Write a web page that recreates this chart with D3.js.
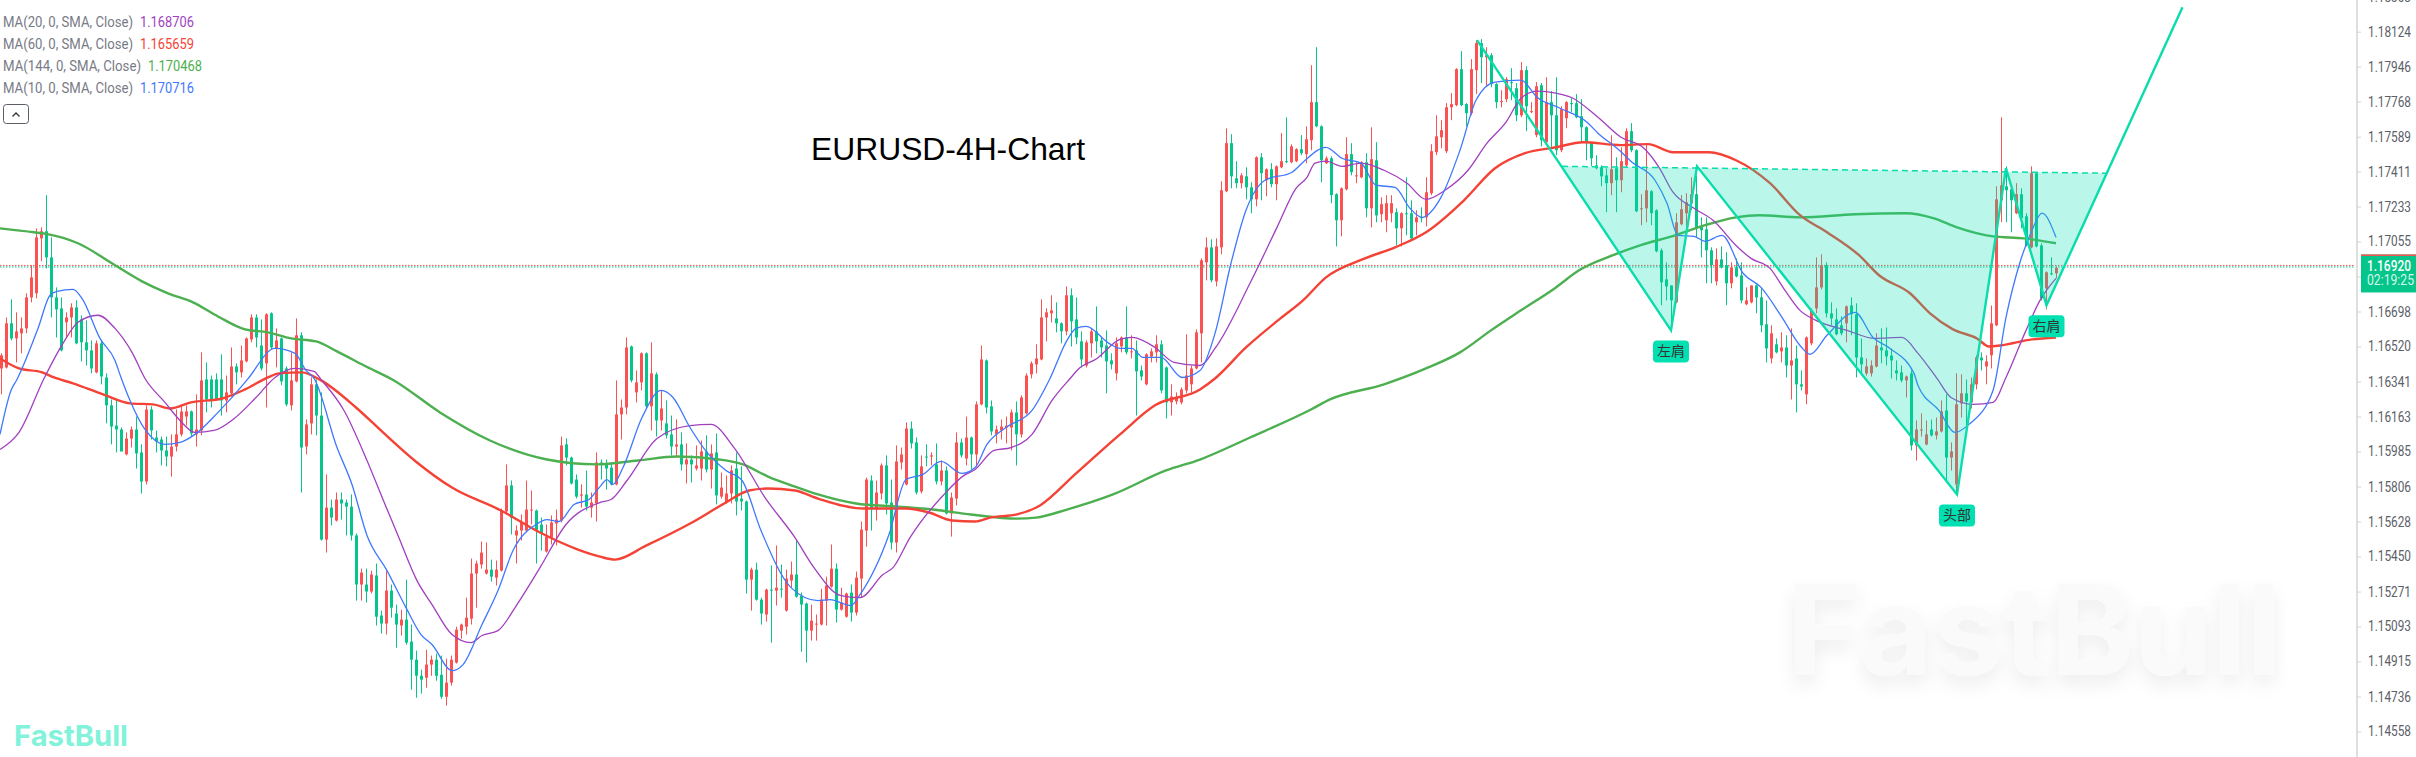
<!DOCTYPE html>
<html>
<head>
<meta charset="utf-8">
<script src="https://cdn.jsdelivr.net/npm/d3@7"></script>
<style>
  body { margin: 0; background: #fff; }
  svg { display: block; }
</style>
</head>
<body>
<script>
// Chart values. Prices in points (1 point = 0.00001)

// Candles: open, high, low, close, one row per 4H bar
var candles = [
[116408,116485,116276,116475],[116413,116668,116408,116638],[116638,116760,116551,116561],[116561,116694,116439,116597],
[116587,116668,116485,116612],[116612,116791,116587,116770],[116770,116934,116745,116872],[116791,117122,116765,117076],
[117071,117127,116954,117107],[117107,117291,116918,116974],[116974,117076,116668,116770],[116770,116821,116566,116709],
[116714,116770,116495,116500],[116643,116694,116566,116668],[116668,116740,116566,116719],[116719,116755,116531,116536],
[116658,116679,116444,116541],[116541,116653,116423,116500],[116500,116551,116383,116408],[116388,116551,116383,116536],
[116536,116551,116327,116367],[116362,116383,116128,116220],[116220,116250,116021,116112],[116117,116250,115980,116097],
[116097,116107,115985,115985],[115970,116082,115965,116051],[116051,116112,116005,116097],[116097,116163,115898,115975],
[115980,116021,115771,115832],[115832,116220,115817,116199],[116199,116215,116046,116092],[116056,116092,115980,116036],
[116046,116061,115914,115990],[115990,116061,115909,115959],[115959,116072,115857,116010],[116010,116199,115985,116072],
[116072,116215,116061,116189],[116163,116220,116117,116189],[116189,116194,116061,116077],[116072,116276,116010,116097],
[116092,116490,116067,116347],[116352,116439,116184,116250],[116352,116372,116209,116245],[116352,116383,116245,116250],
[116352,116480,116168,116245],[116245,116372,116184,116286],[116281,116515,116265,116418],[116418,116434,116327,116388],
[116388,116525,116362,116449],[116444,116566,116439,116561],[116556,116684,116541,116668],[116668,116684,116515,116566],
[116525,116658,116398,116408],[116434,116689,116209,116684],[116689,116694,116505,116515],[116510,116612,116413,116551],
[116561,116566,116322,116342],[116408,116418,116215,116225],[116220,116490,116194,116347],[116342,116663,116337,116577],
[116577,116592,115776,116005],[116010,116148,115970,116123],[116128,116362,116072,116327],[116327,116352,116067,116168],
[116168,116286,115531,115536],[115536,115868,115470,115699],[115699,115740,115608,115648],[115633,115776,115628,115740],
[115740,115776,115638,115720],[115725,115740,115557,115704],[115704,115766,115531,115557],[115557,115567,115225,115307],
[115307,115388,115225,115368],[115307,115388,115215,115271],[115271,115378,115261,115358],[115353,115414,115098,115143],
[115149,115174,115057,115108],[115108,115378,115052,115276],[115276,115307,115138,115189],[115159,115205,114985,115103],
[115098,115179,115047,115128],[115128,115332,115001,115011],[115016,115103,114771,114924],[114924,114970,114730,114842],
[114842,114873,114751,114822],[114832,114975,114781,114899],[114899,114945,114842,114924],[114924,114955,114817,114842],
[114847,114945,114725,114735],[114735,114929,114690,114807],[114807,114945,114792,114924],[114909,115092,114904,115077],
[115072,115108,115031,115103],[115092,115240,115052,115138],[115133,115439,115103,115363],[115363,115429,115189,115414],
[115409,115526,115388,115470],[115363,115521,115358,115383],[115383,115434,115322,115347],[115342,115429,115302,115383],
[115378,115694,115373,115684],[115679,115919,115669,115812],[115812,115837,115562,115648],[115557,115608,115414,115582],
[115582,115664,115531,115623],[115582,115837,115572,115689],[115684,115786,115613,115689],[115684,115689,115414,115582],
[115613,115648,115480,115567],[115475,115613,115470,115551],[115546,115659,115511,115623],[115618,115689,115506,115638],
[115633,116061,115623,116016],[116021,116051,115914,115954],[115954,115959,115817,115822],[115842,115868,115745,115755],
[115760,115817,115699,115766],[115766,115888,115684,115704],[115699,115776,115648,115725],[115720,115980,115628,115929],
[115929,115944,115842,115924],[115924,115944,115791,115898],[115903,115929,115812,115817],[115817,116347,115812,116174],
[116174,116250,116046,116209],[116209,116566,116174,116515],[116520,116525,116337,116347],[116286,116398,116235,116337],
[116337,116490,116296,116485],[116485,116490,116204,116215],[116215,116541,116092,116383],[116378,116388,116061,116143],
[116143,116296,116092,116204],[116128,116245,116051,116067],[116072,116168,115965,116010],[116010,116148,115959,116021],
[116021,116082,115888,115919],[115919,116026,115822,115944],[115944,115965,115827,115919],[115898,116016,115888,115914],
[115898,116041,115837,115985],[115985,116067,115878,115893],[115893,116021,115796,115975],[115980,116077,115715,115761],
[115755,115878,115745,115801],[115725,115863,115720,115771],[115771,115914,115720,115888],[115898,115980,115659,115730],
[115745,115909,115684,115730],[115730,115735,115261,115332],[115332,115393,115174,115383],[115383,115419,115225,115230],
[115230,115240,115103,115159],[115154,115286,115118,115281],[115281,115404,115011,115276],[115276,115506,115200,115291],
[115286,115409,115240,115281],[115174,115383,115169,115337],[115327,115424,115291,115358],[115358,115531,115240,115245],
[115250,115266,114965,115205],[115210,115215,114909,115072],[115072,115205,115021,115123],[115103,115154,115021,115108],
[115103,115286,115098,115230],[115225,115347,115098,115302],[115296,115511,115291,115388],[115388,115414,115113,115179],
[115179,115291,115174,115215],[115143,115266,115138,115261],[115266,115307,115118,115164],[115164,115373,115149,115342],
[115337,115628,115240,115587],[115582,115852,115500,115842],[115837,115863,115582,115689],[115689,115837,115633,115776],
[115771,115924,115740,115914],[115914,115965,115664,115720],[115725,115842,115485,115521],[115521,116016,115470,115934],
[115929,116005,115893,115970],[115817,116133,115812,116102],[116102,116138,116000,116026],[116031,116056,115766,115776],
[115781,115965,115771,115909],[115959,116021,115909,115955],[115959,115980,115914,115965],[115919,116026,115817,115832],
[115832,115939,115812,115888],[115888,115909,115664,115669],[115669,115776,115551,115750],[115745,116082,115710,116031],
[116031,116051,115954,115965],[115949,116163,115914,116056],[116056,116061,115893,115970],[115970,116240,115909,116225],
[116225,116525,116220,116454],[116449,116454,116179,116209],[116215,116245,116067,116087],[116072,116117,116026,116097],
[116092,116148,116046,116112],[116107,116163,116026,116117],[116107,116199,115990,116184],[116184,116240,115914,116072],
[116072,116271,116056,116260],[116179,116383,116174,116372],[116378,116444,116357,116434],[116429,116531,116383,116459],
[116454,116760,116449,116668],[116668,116714,116546,116694],[116689,116781,116643,116704],[116663,116745,116592,116638],
[116638,116643,116536,116597],[116597,116826,116577,116781],[116781,116816,116520,116648],[116658,116770,116531,116566],
[116546,116597,116413,116454],[116423,116551,116413,116541],[116536,116612,116464,116597],[116597,116724,116485,116546],
[116551,116566,116464,116515],[116525,116602,116281,116444],[116449,116485,116403,116429],[116383,116566,116347,116536],
[116520,116571,116490,116566],[116566,116724,116480,116490],[116490,116577,116459,116495],[116500,116551,116168,116393],
[116398,116423,116347,116367],[116327,116485,116322,116480],[116469,116510,116439,116495],[116490,116577,116439,116531],
[116531,116551,116281,116296],[116413,116418,116153,116235],[116235,116327,116168,116265],[116240,116286,116225,116260],
[116235,116311,116225,116301],[116296,116582,116281,116372],[116327,116423,116286,116408],[116408,116607,116403,116592],
[116587,116969,116439,116959],[116949,117076,116857,117025],[117025,117066,116847,116857],[116852,117071,116826,117030],
[117025,117362,116990,117316],[117311,117632,117306,117556],[117556,117602,117326,117387],[117377,117464,117326,117352],
[117352,117403,117326,117392],[117387,117433,117270,117331],[117331,117357,117199,117270],[117270,117489,117234,117484],
[117484,117505,117265,117403],[117367,117428,117285,117423],[117423,117454,117331,117347],[117347,117443,117265,117438],
[117433,117607,117428,117464],[117464,117688,117454,117461],[117459,117550,117454,117540],[117464,117530,117459,117525],
[117525,117597,117495,117505],[117500,117642,117454,117576],[117571,117953,117520,117765],[117765,118045,117637,117642],
[117642,117647,117357,117469],[117454,117489,117449,117479],[117479,117489,117250,117291],[117296,117301,117030,117163],
[117163,117331,117081,117326],[117321,117586,117316,117500],[117500,117556,117392,117408],[117390,117459,117352,117392],
[117382,117464,117377,117459],[117459,117505,117178,117224],[117224,117637,117127,117474],[117469,117561,117153,117188],
[117194,117280,117153,117245],[117163,117291,117102,117250],[117199,117291,117153,117250],[117204,117224,117035,117122],
[117122,117204,117030,117199],[117199,117382,117086,117194],[117199,117265,117061,117071],[117153,117214,117086,117178],
[117178,117229,117153,117173],[117178,117382,117132,117306],[117301,117551,117291,117515],[117510,117698,117495,117591],
[117586,117673,117530,117622],[117515,117760,117505,117739],[117739,117811,117673,117755],[117750,117938,117744,117933],
[117933,118025,117744,117750],[117755,117760,117642,117709],[117709,117984,117698,117933],[117928,118081,117806,118066],
[118066,118086,117862,117994],[117994,118045,117846,118004],[118004,118015,117841,117857],[117857,117862,117734,117765],
[117765,117826,117739,117770],[117780,117892,117765,117882],[117867,117938,117775,117862],[117836,117862,117668,117698],
[117698,117969,117688,117928],[117928,117948,117617,117744],[117716,117765,117709,117719],[117597,117867,117586,117846],
[117851,117862,117540,117571],[117561,117892,117556,117765],[117765,117821,117535,117698],[117698,117892,117495,117520],
[117520,117744,117510,117729],[117683,117770,117632,117765],[117760,117785,117714,117755],[117760,117806,117683,117688],
[117693,117780,117561,117637],[117637,117642,117469,117561],[117556,117561,117438,117479],[117443,117495,117423,117428],
[117433,117443,117336,117387],[117392,117428,117204,117352],[117352,117597,117291,117423],[117428,117484,117204,117367],
[117367,117535,117306,117464],[117443,117632,117433,117617],[117617,117658,117510,117520],[117520,117525,117204,117209],
[117220,117296,117138,117224],[117224,117546,117153,117316],[117311,117316,117138,117199],[117214,117219,117000,117005],
[117010,117020,116730,116847],[116862,116949,116755,116826],[116831,116831,116592,116755],[116745,117199,116740,117153],
[117143,117291,117138,117219],[117199,117301,117112,117255],[117250,117382,117214,117296],[117296,117392,117076,117127],
[117132,117178,116974,117112],[117117,117178,116842,117010],[117010,117025,116842,116934],[116852,117020,116831,116964],
[116964,117030,116918,116923],[116934,117000,116730,116842],[116842,116949,116816,116923],[116923,116969,116872,116877],
[116882,116949,116740,116755],[116735,116821,116730,116755],[116745,116831,116740,116831],[116831,116836,116689,116770],
[116770,116821,116592,116628],[116633,116755,116439,116510],[116459,116628,116434,116587],[116531,116561,116485,116490],
[116495,116592,116439,116515],[116515,116577,116362,116423],[116423,116612,116250,116449],[116459,116525,116184,116327],
[116327,116398,116296,116316],[116276,116571,116225,116566],[116536,116714,116526,116704],[116714,116974,116689,116821],
[116821,116990,116811,116934],[116934,116949,116668,116689],[116689,116745,116628,116663],[116658,116714,116577,116582],
[116628,116673,116577,116587],[116638,116729,116541,116724],[116729,116770,116577,116684],[116684,116740,116362,116464],
[116464,116561,116383,116429],[116383,116459,116372,116418],[116383,116449,116367,116423],[116418,116587,116413,116525],
[116515,116612,116434,116500],[116500,116617,116423,116469],[116474,116510,116357,116449],[116398,116449,116347,116383],
[116388,116423,116337,116347],[116347,116372,116260,116367],[116383,116398,115990,116016],[116016,116143,115939,116097],
[116092,116179,116061,116097],[116021,116143,116016,116072],[116097,116148,116061,116067],[116067,116158,116046,116087],
[116087,116245,116082,116189],[116194,116276,115827,115954],[115954,116031,115888,115985],[115817,116383,115766,116225],
[116230,116378,116158,116281],[116281,116352,116117,116240],[116235,116362,116204,116327],[116327,116475,116301,116464],
[116464,116490,116398,116449],[116418,116475,116327,116444],[116475,116729,116408,116638],[116628,117336,116623,117270],
[117265,117688,117153,117341],[117336,117438,117153,117316],[117321,117331,117102,117265],[117199,117352,117194,117296],
[117296,117326,117122,117173],[117183,117199,117030,117035],[117025,117438,117020,117403],[117403,117408,117025,117030],
[117035,117046,116755,116765],[116816,116903,116709,116898],[116893,116974,116883,116888],[116893,116929,116867,116920]
];

// Moving averages: bar number, value
var ma144 = [[-0.3,117122],[6.5,117102],[8.9,117094],[15.3,117046],[22.7,116934],[28.1,116852],[33.3,116791],[38.3,116745],[43.3,116673],[48.7,116607],[53.3,116592],[57.9,116561],[62.9,116546],[67.1,116495],[72.5,116423],[78.5,116347],[87.7,116184],[97.7,116041],[109.1,115944],[119.1,115919],[127.3,115939],[135.1,115959],[143.5,115944],[148.3,115919],[153.3,115857],[158.7,115806],[163.3,115766],[170.9,115720],[179.3,115704],[186.3,115689],[193.9,115664],[203.1,115643],[206.9,115648],[213.1,115689],[222.3,115766],[232.9,115888],[239.7,115944],[249.7,116056],[261.9,116199],[265.7,116250],[276.5,116327],[284.9,116408],[291.7,116490],[297.9,116602],[303.9,116704],[310.9,116821],[315.5,116908],[322.3,116985],[327.7,117035],[334.7,117086],[340.7,117138],[346.9,117178],[351.5,117189],[359.7,117178],[370.7,117194],[380.9,117199],[386.5,117173],[391.1,117127],[398.3,117081],[404.5,117071],[410.9,117046]];

var ma60 = [[-0.3,116459],[3.5,116408],[8.1,116388],[10.5,116362],[14.3,116332],[20.3,116276],[25.7,116230],[30.3,116225],[33.7,116204],[37.9,116235],[44.1,116255],[48.7,116301],[53.3,116362],[55.5,116383],[60.1,116388],[63.9,116347],[70.9,116209],[76.3,116082],[83.1,115929],[90.1,115801],[99.9,115684],[107.7,115572],[115.3,115485],[119.7,115449],[122.7,115434],[128.9,115505],[138.1,115623],[144.9,115725],[149.5,115786],[153.3,115796],[158.7,115786],[163.3,115745],[172.5,115694],[180.9,115694],[185.5,115674],[190.1,115633],[194.7,115628],[197.7,115648],[203.1,115664],[207.7,115710],[214.7,115868],[223.7,116072],[230.7,116220],[239.7,116301],[242.7,116357],[248.9,116515],[255.3,116653],[260.3,116755],[264.9,116872],[272.7,116969],[278.7,117025],[284.9,117102],[292.5,117265],[298.7,117428],[304.7,117505],[310.9,117535],[316.3,117561],[323.9,117546],[329.3,117551],[334.3,117510],[341.5,117510],[346.9,117469],[353.7,117352],[359.7,117189],[365.1,117102],[371.5,116985],[375.5,116883],[381.7,116791],[385.7,116689],[390.3,116607],[395.1,116561],[397.5,116520],[399.7,116525],[406.1,116556],[410.9,116566]];

var ma20 = [[-0.3,115995],[3.5,116082],[8.5,116357],[12.3,116536],[15.3,116643],[19.3,116679],[22.7,116612],[26.1,116490],[28.7,116357],[32.7,116235],[35.7,116143],[38.7,116082],[42.5,116092],[46.3,116148],[50.9,116260],[54.7,116362],[58.7,116408],[62.5,116393],[63.9,116352],[68.5,116194],[73.1,115939],[76.3,115740],[79.3,115557],[83.1,115327],[86.1,115205],[90.1,115052],[93.9,115011],[96.1,115047],[99.3,115072],[103.1,115205],[107.7,115393],[112.9,115613],[119.7,115725],[121.9,115740],[125.1,115837],[131.1,116051],[137.7,116117],[141.9,116123],[146.5,116005],[152.7,115750],[158.7,115546],[162.5,115393],[167.9,115250],[171.7,115240],[176.3,115358],[178.3,115393],[181.7,115546],[188.5,115766],[192.5,115863],[194.7,115893],[198.5,115990],[201.9,116005],[206.1,116072],[210.1,116245],[213.9,116362],[215.3,116403],[219.1,116459],[223.7,116556],[226.1,116566],[230.7,116515],[234.5,116439],[239.7,116423],[242.7,116510],[249.7,116842],[255.1,117127],[258.9,117326],[261.1,117382],[262.7,117454],[264.9,117464],[268.1,117438],[271.9,117454],[276.5,117418],[281.1,117352],[284.9,117270],[288.7,117316],[293.3,117418],[297.1,117556],[300.9,117663],[303.9,117785],[307.1,117821],[310.9,117811],[313.9,117790],[319.3,117688],[323.9,117586],[328.5,117530],[331.5,117433],[334.3,117306],[338.5,117224],[342.3,117163],[346.9,117035],[349.9,116969],[353.7,116918],[356.7,116806],[359.7,116704],[362.9,116653],[369.1,116602],[374.7,116561],[380.1,116566],[383.3,116485],[387.1,116357],[389.9,116260],[394.3,116225],[398.3,116235],[400.9,116362],[404.9,116602],[407.7,116755],[410.9,116867]];

var ma10 = [[-0.3,116072],[1.9,116296],[3.1,116352],[7.3,116612],[9.7,116781],[11.1,116801],[14.3,116811],[16.1,116765],[19.7,116561],[22.7,116449],[23.9,116362],[25.7,116245],[28.7,116097],[32.7,116021],[35.7,116031],[38.7,116072],[43.3,116184],[48.7,116337],[49.5,116362],[54.7,116510],[58.7,116485],[60.9,116398],[62.5,116357],[67.1,116005],[70.1,115817],[73.1,115557],[77.1,115378],[80.9,115189],[83.9,115052],[86.1,115001],[90.1,114868],[92.3,114899],[96.1,115103],[99.3,115276],[102.3,115480],[106.9,115613],[109.1,115638],[111.5,115628],[114.5,115715],[117.5,115740],[119.7,115806],[121.1,115842],[122.3,115817],[124.3,115903],[128.1,116158],[131.9,116296],[134.3,116260],[137.7,116107],[141.1,115980],[144.9,115888],[148.1,115837],[151.9,115582],[157.9,115291],[163.3,115225],[165.7,115230],[169.9,115200],[171.7,115256],[177.5,115562],[180.9,115842],[184.3,115868],[187.9,115934],[192.1,115873],[194.7,115903],[197.1,116021],[200.9,116107],[206.1,116194],[209.7,116357],[213.1,116551],[214.9,116612],[216.9,116622],[221.5,116536],[223.7,116510],[226.1,116510],[228.3,116464],[231.9,116464],[236.1,116362],[239.7,116398],[242.7,116587],[245.9,116944],[248.9,117214],[252.7,117367],[258.1,117408],[260.3,117459],[264.9,117535],[268.1,117479],[271.9,117454],[274.9,117342],[278.7,117331],[281.7,117224],[284.1,117178],[287.9,117280],[291.7,117520],[294.9,117775],[298.7,117867],[303.9,117877],[307.1,117790],[311.7,117734],[317.1,117663],[319.3,117607],[323.1,117530],[326.1,117459],[330.7,117367],[333.1,117250],[335.3,117086],[338.5,117081],[340.7,117056],[344.1,117086],[348.3,116893],[351.9,116821],[356.1,116668],[359.7,116525],[361.7,116480],[365.1,116577],[370.7,116694],[374.3,116566],[377.7,116510],[382.5,116383],[383.3,116321],[387.5,116194],[390.7,116082],[393.5,116123],[398.3,116296],[400.9,116668],[403.7,116949],[406.1,117112],[408.1,117199],[410.9,117076]];

// Head and shoulders drawing: bar number, value
var patternLine = [[295.1,118081],[333.9,116602],[339.1,117438],[391.1,115766],[400.9,117428],[409,116730],[436.2,118249]];
var patternFill = [[312.1,117438],[333.9,116602],[339.1,117438],[391.1,115766],[400.9,117428],[409,116730],[421,117403]];
var neckline = [[312.1,117438],[421,117403]];
var patternLabels = ["左肩", "头部", "右肩"];
var patternLabelBars = [333.9, 391.1, 409];
var patternLabelPrices = [116602, 115766, 116730];

// Axis and legend
var priceTicks = [1.18303,1.18124,1.17946,1.17768,1.17589,1.17411,1.17233,1.17055,1.16876,1.16698,1.1652,1.16341,1.16163,1.15985,1.15806,1.15628,1.1545,1.15271,1.15093,1.14915,1.14736,1.14558];
var legendNames = ["MA(20, 0, SMA, Close)", "MA(60, 0, SMA, Close)", "MA(144, 0, SMA, Close)", "MA(10, 0, SMA, Close)"];
var legendValues = ["1.168706", "1.165659", "1.170468", "1.170716"];
var lastPrice = 1.16920;
var bidLinePrice = 1.16925;
var askLinePrice = 1.16933;
var countdown = "02:19:25";

var colorUp = "#fa5252";
var colorDown = "#05c58a";
var colorMa20 = "#a13fbf";
var colorMa60 = "#f44336";
var colorMa144 = "#4caf50";
var colorMa10 = "#3f78ff";
var colorPattern = "#0adcab";
var legendColors = [colorMa20, colorMa60, colorMa144, colorMa10];

var width = 2416;
var height = 757;
var axisX = 2357;

var svg = d3.select("body")
  .append("svg")
  .attr("width", width)
  .attr("height", height);

var xScale = d3.scaleLinear().domain([0, 411]).range([1.5, 2056.5]);
var yScale = d3.scaleLinear().domain([1.14558, 1.18124]).range([731.5, 31.7]);

function yPts(p) { return yScale(p / 100000); }

// Drop shadow for the large watermark
var shadow = svg.append("defs").append("filter")
  .attr("id", "markShadow")
  .attr("x", "-5%").attr("y", "-20%").attr("width", "110%").attr("height", "150%");
shadow.append("feDropShadow")
  .attr("dx", 0).attr("dy", 9).attr("stdDeviation", 9)
  .attr("flood-color", "#000").attr("flood-opacity", 0.07);

// Watermark
svg.append("text")
  .attr("x", 1787).attr("y", 675)
  .attr("font-family", "Inter, Lato, sans-serif")
  .attr("font-weight", 700)
  .attr("font-size", 125)
  .attr("textLength", 494)
  .attr("lengthAdjust", "spacingAndGlyphs")
  .attr("fill", "#fafafa")
  .attr("filter", "url(#markShadow)")
  .text("FastBull");

// Current price lines
function priceLine(price, color) {
  svg.append("line")
    .attr("x1", 0).attr("x2", axisX - 2)
    .attr("y1", yScale(price)).attr("y2", yScale(price))
    .attr("stroke", color)
    .attr("stroke-width", 1)
    .attr("stroke-dasharray", "1.5 1.5");
}
priceLine(askLinePrice, colorUp);
priceLine(bidLinePrice, colorDown);

// Candles
var bars = svg.append("g").selectAll("g")
  .data(candles)
  .enter()
  .append("g")
  .attr("fill", function (d) { return d[3] >= d[0] ? colorUp : colorDown; })
  .attr("stroke", function (d) { return d[3] >= d[0] ? colorUp : colorDown; });

bars.append("line")
  .attr("x1", function (d, i) { return xScale(i); })
  .attr("x2", function (d, i) { return xScale(i); })
  .attr("y1", function (d) { return yPts(d[1]); })
  .attr("y2", function (d) { return yPts(d[2]); })
  .attr("stroke-width", 1);

bars.append("rect")
  .attr("x", function (d, i) { return xScale(i) - 1.5; })
  .attr("width", 3)
  .attr("y", function (d) { return yPts(Math.max(d[0], d[3])); })
  .attr("height", function (d) { return Math.max(1, Math.abs(yPts(d[0]) - yPts(d[3]))); })
  .attr("stroke", "none");

// Moving averages
var maLine = d3.line()
  .x(function (d) { return xScale(d[0]); })
  .y(function (d) { return yPts(d[1]); })
  .curve(d3.curveMonotoneX);

function drawMa(points, color, thick) {
  svg.append("path")
    .attr("d", maLine(points))
    .attr("fill", "none")
    .attr("stroke", color)
    .attr("stroke-width", thick);
}
drawMa(ma144, colorMa144, 2.4);
drawMa(ma60, colorMa60, 2.4);
drawMa(ma20, colorMa20, 1.3);
drawMa(ma10, colorMa10, 1.3);

// Pattern drawing
var straight = d3.line()
  .x(function (d) { return xScale(d[0]); })
  .y(function (d) { return yPts(d[1]); });

svg.append("path")
  .attr("d", straight(patternFill) + "Z")
  .attr("fill", "rgba(0, 224, 176, 0.27)");

svg.append("path")
  .attr("d", straight(neckline))
  .attr("fill", "none")
  .attr("stroke", colorPattern)
  .attr("stroke-width", 1.5)
  .attr("stroke-dasharray", "6 4");

svg.append("path")
  .attr("d", straight(patternLine))
  .attr("fill", "none")
  .attr("stroke", colorPattern)
  .attr("stroke-width", 2.4);

var tags = svg.append("g").selectAll("g")
  .data(patternLabels)
  .enter()
  .append("g")
  .attr("transform", function (d, i) {
    return "translate(" + xScale(patternLabelBars[i]) + "," + yPts(patternLabelPrices[i]) + ")";
  });

tags.append("rect")
  .attr("x", -18).attr("y", 10)
  .attr("width", 36).attr("height", 22)
  .attr("rx", 4)
  .attr("fill", "#00e0b0");

tags.append("text")
  .attr("y", 26)
  .attr("text-anchor", "middle")
  .attr("font-family", "'Noto Sans CJK SC', sans-serif")
  .attr("font-size", 14)
  .attr("fill", "#333")
  .text(function (d) { return d; });

// Price axis
svg.append("line")
  .attr("x1", axisX).attr("x2", axisX)
  .attr("y1", 0).attr("y2", height)
  .attr("stroke", "#d4d4d4")
  .attr("stroke-width", 1.5);

var axis = svg.append("g")
  .attr("transform", "translate(" + axisX + ",0)")
  .call(d3.axisRight(yScale).tickValues(priceTicks).tickSize(4).tickFormat(d3.format(".5f")));
axis.select(".domain").remove();
axis.selectAll("line").attr("stroke", "#d4d4d4");
axis.selectAll("text")
  .attr("x", 11)
  .attr("font-family", "Roboto, sans-serif")
  .attr("font-size", 14)
  .attr("fill", "#5c6068")
  .attr("textLength", 43)
  .attr("lengthAdjust", "spacingAndGlyphs");

// Last price box
var boxY = yScale(lastPrice) - 13.5;
svg.append("rect")
  .attr("x", axisX + 4).attr("y", boxY)
  .attr("width", width - axisX - 4).attr("height", 38)
  .attr("fill", colorDown);
svg.append("rect")
  .attr("x", axisX + 4).attr("y", boxY)
  .attr("width", width - axisX - 4).attr("height", 1.5)
  .attr("fill", colorUp);
svg.append("text")
  .attr("x", 2367).attr("y", boxY + 17)
  .attr("font-family", "Roboto, sans-serif")
  .attr("font-weight", 500)
  .attr("font-size", 14)
  .attr("textLength", 44)
  .attr("lengthAdjust", "spacingAndGlyphs")
  .attr("fill", "#fff")
  .text(d3.format(".5f")(lastPrice));
svg.append("text")
  .attr("x", 2367).attr("y", boxY + 31)
  .attr("font-family", "Roboto, sans-serif")
  .attr("font-size", 14)
  .attr("textLength", 47)
  .attr("lengthAdjust", "spacingAndGlyphs")
  .attr("fill", "#d6f7ec")
  .text(countdown);

// Legend
var legendRows = svg.append("g").selectAll("g")
  .data(legendNames)
  .enter()
  .append("g")
  .attr("transform", function (d, i) { return "translate(3," + (27 + i * 22) + ")"; })
  .attr("font-family", "Roboto, sans-serif")
  .attr("font-size", 14);

legendRows.append("text")
  .attr("fill", "#787b86")
  .attr("textLength", function (d) { return d.indexOf("144") >= 0 ? 138 : 130; })
  .attr("lengthAdjust", "spacingAndGlyphs")
  .text(function (d) { return d; });

legendRows.append("text")
  .attr("x", function (d) { return d.indexOf("144") >= 0 ? 145 : 137; })
  .attr("fill", function (d, i) { return legendColors[i]; })
  .attr("textLength", 54)
  .attr("lengthAdjust", "spacingAndGlyphs")
  .text(function (d, i) { return legendValues[i]; });

// Collapse button
svg.append("rect")
  .attr("x", 3.5).attr("y", 104.5)
  .attr("width", 25).attr("height", 19)
  .attr("rx", 3)
  .attr("fill", "#fff")
  .attr("stroke", "#5a5e66");
svg.append("path")
  .attr("d", "M12.5 116.5 L16 113 L19.5 116.5")
  .attr("fill", "none")
  .attr("stroke", "#333")
  .attr("stroke-width", 1.3);

// Title
svg.append("text")
  .attr("x", 811).attr("y", 160)
  .attr("font-family", "'Liberation Sans', Arial, sans-serif")
  .attr("font-size", 32)
  .attr("textLength", 274)
  .attr("lengthAdjust", "spacingAndGlyphs")
  .attr("fill", "#000")
  .text("EURUSD-4H-Chart");

// Logo
svg.append("text")
  .attr("x", 14).attr("y", 746)
  .attr("font-family", "Inter, Lato, sans-serif")
  .attr("font-weight", 700)
  .attr("font-size", 29)
  .attr("textLength", 114)
  .attr("lengthAdjust", "spacingAndGlyphs")
  .attr("fill", "#82f2da")
  .text("FastBull");
</script>
</body>
</html>
